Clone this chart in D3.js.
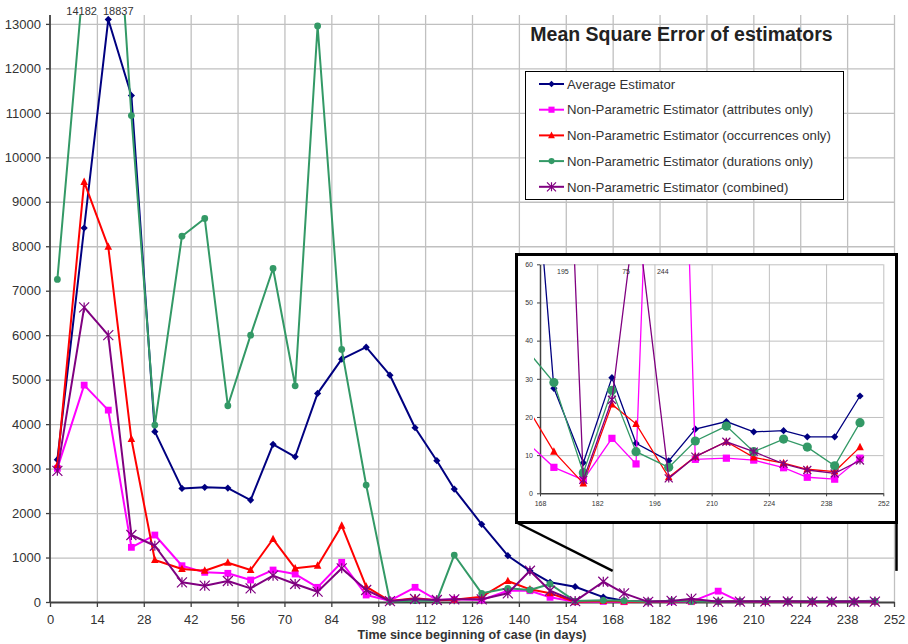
<!DOCTYPE html>
<html><head><meta charset="utf-8">
<script src="https://cdn.jsdelivr.net/npm/d3@7"></script>
<style>
body{margin:0;background:#fff}
svg{display:block;font-family:"Liberation Sans",Arial,Helvetica,sans-serif}
</style>
</head><body>
<svg id="c" width="908" height="644"></svg>
<script>
// ---------- data ----------
const days = [2.2, 10.2, 17.4, 24.3, 31.3, 39.4, 46.2, 53.1, 59.9, 66.6, 73.2, 79.9, 87.1, 94.4, 101.5, 109.0, 115.5, 120.7, 128.9, 136.7, 143.3, 149.3, 156.8, 165.2, 171.4, 178.6, 185.6, 191.5, 199.5, 206.0, 213.6, 220.3, 227.6, 233.4, 240.1, 246.3];
const avgEst  = [3200, 8410, 13100, 11390, 3830, 2555, 2578, 2562, 2293, 3545, 3266, 4690, 5460, 5730, 5100, 3918, 3177, 2540, 1746, 1041, 700, 442, 344, 110, 27.5, 8, 30.3, 13.1, 8.5, 16.8, 18.8, 16.1, 16.4, 14.8, 14.8, 25.5];
const npAttr  = [3005, 4877, 4315, 1229, 1506, 816, 667, 645, 494, 719, 629, 330, 893, 157, 30, 330, 45, 60, 45, 254, 254, 105, 5, 13, 6.8, 3.5, 14.4, 7.7, 244, 8.9, 9.2, 8.7, 6.7, 4.2, 3.7, 9.2];
const npOcc   = [3080, 9447, 7987, 3664, 944, 742, 704, 884, 719, 1416, 757, 816, 1716, 344, 20, 83, 40, 50, 120, 472, 285, 195, 5, 22, 10.9, 2.6, 23.3, 18.2, 4.2, 9.6, 13.5, 9.4, 7.9, 6.3, 5.7, 12.1];
const npDur   = [7253, 14182, 18837, 10939, 3978, 8226, 8624, 4413, 6001, 7500, 4862, 12953, 5680, 2630, 10, 30, 30, 1056, 195, 307, 270, 405, 20, 37, 29, 5.4, 27, 10.9, 6.8, 13.7, 17.6, 10.9, 14.2, 12.1, 7.2, 18.5];
const npComb  = [2950, 6624, 6001, 1506, 1265, 442, 367, 472, 307, 592, 405, 232, 757, 270, 20, 67, 45, 60, 60, 195, 703, 254, 20, 456, 195, 3.5, 24.5, 75, 3.9, 9.6, 13.5, 10.9, 7.7, 6.1, 5.2, 8.6];
const seriesNames = ["Average Estimator", "Non-Parametric Estimator (attributes only)", "Non-Parametric Estimator (occurrences only)", "Non-Parametric Estimator (durations only)", "Non-Parametric Estimator (combined)"];
const xTicks = [0, 14, 28, 42, 56, 70, 84, 98, 112, 126, 140, 154, 168, 182, 196, 210, 224, 238, 252];
const yTicks = [0, 1000, 2000, 3000, 4000, 5000, 6000, 7000, 8000, 9000, 10000, 11000, 12000, 13000];
const insetXTicks = [168, 182, 196, 210, 224, 238, 252];
const insetYTicks = [0, 10, 20, 30, 40, 50, 60];
const titleText = "Mean Square Error of estimators";
const xTitle = "Time since beginning of case (in days)";
const callout = {day: 168, value: 700};

const series = [
  {name: seriesNames[0], values: avgEst, color: "#000080", marker: "diamond"},
  {name: seriesNames[1], values: npAttr, color: "#FF00FF", marker: "square"},
  {name: seriesNames[2], values: npOcc,  color: "#FF0000", marker: "triangle"},
  {name: seriesNames[3], values: npDur,  color: "#339966", marker: "circle"},
  {name: seriesNames[4], values: npComb, color: "#800080", marker: "star"}
];

// ---------- layout ----------
const svg = d3.select("#c");
const L = 50, R = 894, T = 15, B = 602;
const x = d3.scaleLinear().domain([0, 252]).range([L, R]);
const y = d3.scaleLinear().domain([0, 13200]).range([B, T]);
const GRID = "#c0c0c0", AX = "#404040", TXT = "#333";
const fmt = d3.format("d");

function drawMarker(g, type, cx, cy, s, color) {
  if (type === "diamond") {
    g.append("path").attr("d", `M${cx},${cy-s}L${cx+s},${cy}L${cx},${cy+s}L${cx-s},${cy}Z`).attr("fill", color);
  } else if (type === "square") {
    g.append("rect").attr("x", cx-s).attr("y", cy-s).attr("width", 2*s).attr("height", 2*s).attr("fill", color);
  } else if (type === "triangle") {
    g.append("path").attr("d", `M${cx},${cy-s*1.15}L${cx+s},${cy+s*0.8}L${cx-s},${cy+s*0.8}Z`).attr("fill", color);
  } else if (type === "circle") {
    g.append("circle").attr("cx", cx).attr("cy", cy).attr("r", s).attr("fill", color);
  } else if (type === "star") {
    g.append("path").attr("d", `M${cx-s},${cy-s}L${cx+s},${cy+s}M${cx+s},${cy-s}L${cx-s},${cy+s}M${cx},${cy-s}L${cx},${cy+s}`)
      .attr("stroke", color).attr("stroke-width", 1.2).attr("fill", "none");
  }
}
const mSize = {diamond: 3.6, square: 3.4, triangle: 3.8, circle: 3.4, star: 5};
const mSizeInset = {diamond: 3.6, square: 3.6, triangle: 3.8, circle: 4.6, star: 4};

// ---------- main gridlines ----------
const defs = svg.append("defs");
defs.append("clipPath").attr("id", "mainClip").append("rect")
  .attr("x", L - 8).attr("y", T).attr("width", R - L + 16).attr("height", B - T + 10);

const gridX = svg.append("g").attr("transform", `translate(0,${B})`)
  .call(d3.axisBottom(x).tickValues(xTicks.slice(1)).tickSize(-(B - T)).tickFormat(""));
gridX.select(".domain").remove();
gridX.selectAll("line").attr("stroke", GRID).attr("stroke-width", 1.3);

const gridY = svg.append("g").attr("transform", `translate(${L},0)`)
  .call(d3.axisLeft(y).tickValues(yTicks.slice(1)).tickSize(-(R - L)).tickFormat(""));
gridY.select(".domain").remove();
gridY.selectAll("line").attr("stroke", GRID).attr("stroke-width", 1.3);

// ---------- main axes ----------
const axY = svg.append("g").attr("transform", `translate(${L},0)`)
  .call(d3.axisLeft(y).tickValues(yTicks).tickFormat(fmt).tickSize(4).tickSizeOuter(0).tickPadding(5));
const axX = svg.append("g").attr("transform", `translate(0,${B})`)
  .call(d3.axisBottom(x).tickValues(xTicks).tickFormat(fmt).tickSize(5).tickSizeOuter(0).tickPadding(8));
[axY, axX].forEach(a => {
  a.select(".domain").attr("stroke", AX).attr("stroke-width", 1.8);
  a.selectAll(".tick line").attr("stroke", AX).attr("stroke-width", 1.3);
  a.selectAll("text").attr("fill", TXT).attr("font-size", 13).attr("font-family", "Liberation Sans, Arial, sans-serif");
});
axY.select(".domain").attr("d", `M0,${y(0)}V${T}`);

// ---------- main series ----------
const main = svg.append("g").attr("clip-path", "url(#mainClip)");
const lineMain = d3.line().x((d, i) => x(days[i])).y(d => y(d));
series.forEach(s => {
  main.append("path").datum(s.values).attr("d", lineMain)
    .attr("fill", "none").attr("stroke", s.color).attr("stroke-width", 2).attr("stroke-linejoin", "round");
  const mg = main.append("g");
  s.values.forEach((v, i) => { if (v <= 13200) drawMarker(mg, s.marker, x(days[i]), y(v), mSize[s.marker], s.color); });
});

// labels for clipped values
[1, 2].forEach((i, k) => {
  svg.append("text").attr("x", x(days[i]) + (k === 0 ? -2.5 : 10)).attr("y", 15)
    .attr("text-anchor", "middle").attr("font-size", 11).attr("fill", TXT).text(npDur[i]);
});

// x axis title
svg.append("text").attr("x", 472).attr("y", 639).attr("text-anchor", "middle")
  .attr("font-size", 12.5).attr("font-weight", "bold").attr("fill", TXT).text(xTitle);

// ---------- title ----------
svg.append("text").attr("x", 681.5).attr("y", 41).attr("text-anchor", "middle")
  .attr("font-size", 19.5).attr("font-weight", "bold").attr("fill", "#222").text(titleText);

// ---------- legend ----------
const lg = svg.append("g");
lg.append("rect").attr("x", 525.5).attr("y", 71.5).attr("width", 318).attr("height", 128)
  .attr("fill", "#fff").attr("stroke", "#000").attr("stroke-width", 1);
series.forEach((s, i) => {
  const yy = 84 + i * 25.7;
  lg.append("line").attr("x1", 539).attr("x2", 564).attr("y1", yy).attr("y2", yy)
    .attr("stroke", s.color).attr("stroke-width", 2);
  drawMarker(lg, s.marker, 551.5, yy, mSize[s.marker] * 0.9, s.color);
  lg.append("text").attr("x", 567).attr("y", yy + 4.7).attr("font-size", 13.2).attr("fill", TXT).text(s.name);
});

// ---------- inset ----------
const fr = {x: 516.5, y: 254.5, w: 380, h: 268};
// callout lines
svg.append("line").attr("x1", fr.x).attr("y1", fr.y + fr.h).attr("x2", x(callout.day)).attr("y2", y(callout.value))
  .attr("stroke", "#000").attr("stroke-width", 2.5);
svg.append("line").attr("x1", fr.x + fr.w).attr("y1", fr.y + fr.h).attr("x2", fr.x + fr.w).attr("y2", y(callout.value))
  .attr("stroke", "#000").attr("stroke-width", 2.5);
svg.append("rect").attr("x", fr.x).attr("y", fr.y).attr("width", fr.w).attr("height", fr.h)
  .attr("fill", "#fff").attr("stroke", "#000").attr("stroke-width", 3);

const xi = d3.scaleLinear().domain([168, 252]).range([540, 883.3]);
const yi = d3.scaleLinear().domain([0, 60]).range([493.3, 264.3]);
defs.append("clipPath").attr("id", "insetClip").append("rect")
  .attr("x", 534).attr("y", yi(60)).attr("width", xi(252) - 534).attr("height", yi(0) - yi(60) + 6);

const gix = svg.append("g").attr("transform", `translate(0,${yi(0)})`)
  .call(d3.axisBottom(xi).tickValues(insetXTicks.slice(1)).tickSize(-(yi(0) - yi(60))).tickFormat(""));
gix.select(".domain").remove();
gix.selectAll("line").attr("stroke", GRID).attr("stroke-width", 1);
const giy = svg.append("g").attr("transform", `translate(${xi(168)},0)`)
  .call(d3.axisLeft(yi).tickValues(insetYTicks.slice(1)).tickSize(-(xi(252) - xi(168))).tickFormat(""));
giy.select(".domain").remove();
giy.selectAll("line").attr("stroke", GRID).attr("stroke-width", 1);

const aiy = svg.append("g").attr("transform", `translate(${xi(168)},0)`)
  .call(d3.axisLeft(yi).tickValues(insetYTicks).tickFormat(fmt).tickSize(3).tickSizeOuter(0).tickPadding(4));
const aix = svg.append("g").attr("transform", `translate(0,${yi(0)})`)
  .call(d3.axisBottom(xi).tickValues(insetXTicks).tickFormat(fmt).tickSize(3).tickSizeOuter(0).tickPadding(5));
[aiy, aix].forEach(a => {
  a.select(".domain").attr("stroke", AX).attr("stroke-width", 1.5);
  a.selectAll(".tick line").attr("stroke", AX);
  a.selectAll("text").attr("fill", TXT).attr("font-size", 7).attr("font-family", "Liberation Sans, Arial, sans-serif");
});

const ins = svg.append("g").attr("clip-path", "url(#insetClip)");
const lineInset = d3.line().x((d, i) => xi(days[i])).y(d => yi(d)).defined((d, i) => i >= 22);
series.forEach(s => {
  ins.append("path").datum(s.values).attr("d", lineInset)
    .attr("fill", "none").attr("stroke", s.color).attr("stroke-width", 1.3);
  const mg = ins.append("g");
  s.values.forEach((v, i) => { if (days[i] >= 168 && v <= 60) drawMarker(mg, s.marker, xi(days[i]), yi(v), mSizeInset[s.marker], s.color); });
});

// labels for off-scale inset values
const insetLabels = [
  {vals: npComb, i: 24, dx: 9},
  {vals: npComb, i: 27, dx: -10},
  {vals: npAttr, i: 28, dx: -6}
];
insetLabels.forEach(o => {
  svg.append("text").attr("x", xi(days[o.i]) + o.dx).attr("y", 273.5).attr("text-anchor", "middle")
    .attr("font-size", 7).attr("fill", TXT).text(o.vals[o.i]);
});
</script>
</body></html>
